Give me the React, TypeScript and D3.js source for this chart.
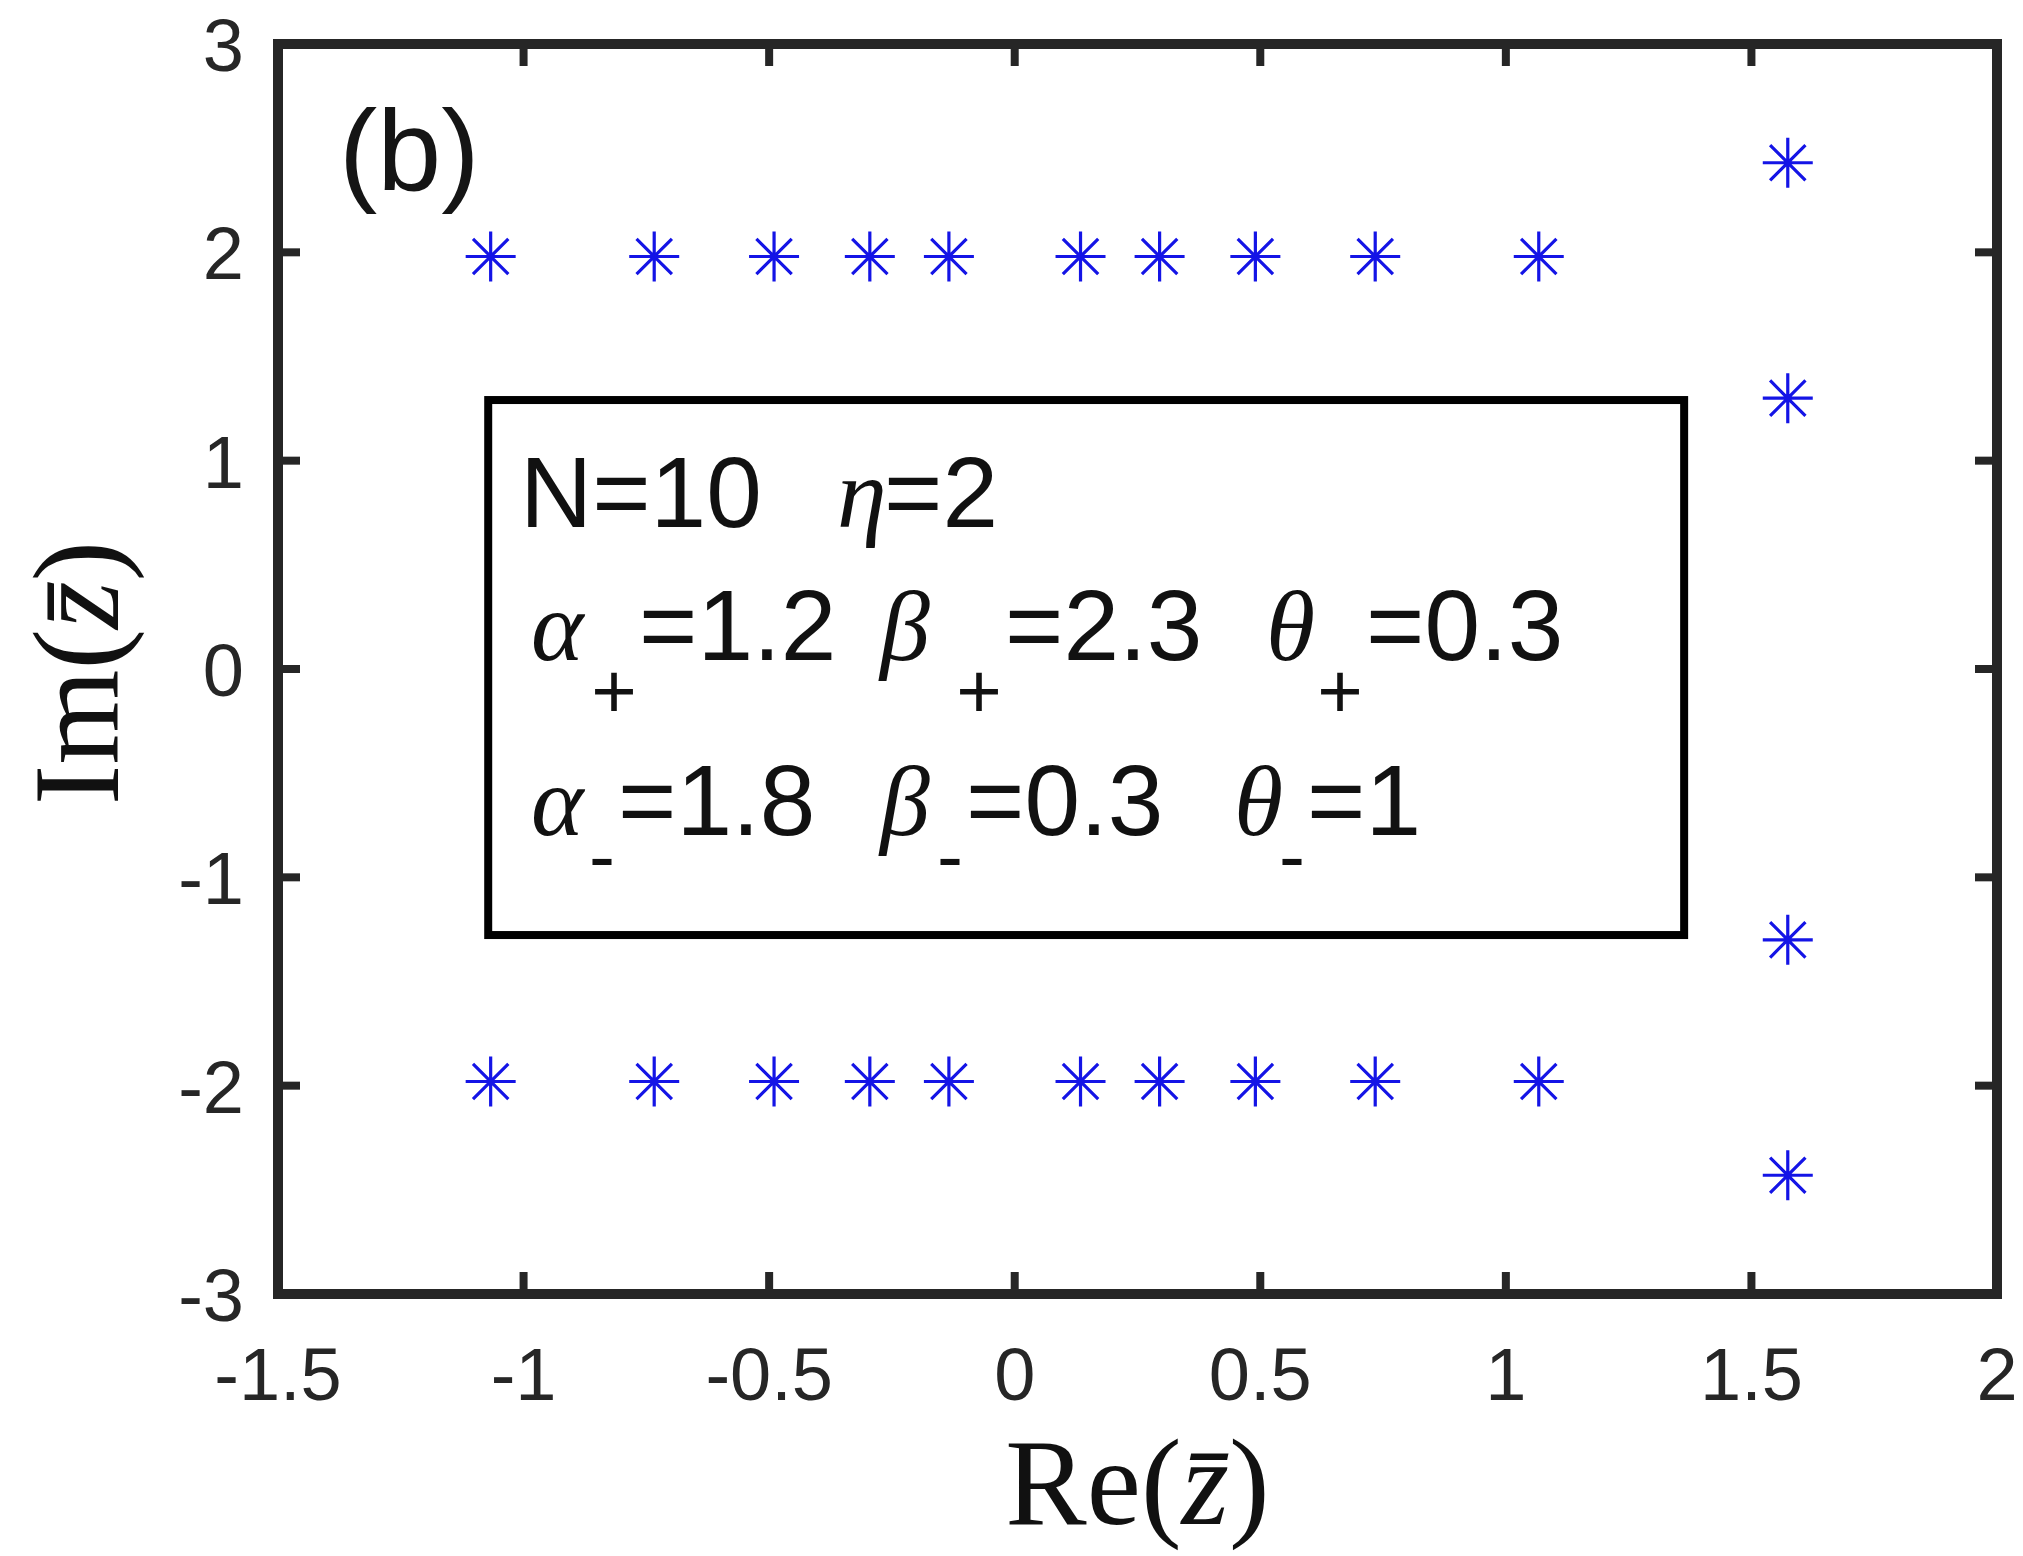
import React from "react";
import * as d3 from "d3";

// Eigenvalue positions in the complex plane (Re, Im)
const rowRe = [-1.067, -0.734, -0.49, -0.295, -0.134, 0.134, 0.295, 0.49, 0.734, 1.067];
const rowIm = [1.98, -1.98];
const edgeRe = [1.574, 1.574, 1.574, 1.574];
const edgeIm = [2.43, 1.3, -1.3, -2.43];

const xTicks = [-1.5, -1, -0.5, 0, 0.5, 1, 1.5, 2];
const yTicks = [-3, -2, -1, 0, 1, 2, 3];

// Parameter annotation
const headerLine = { n: "N=10", eta: "η", etaVal: "=2" };
const paramSymbols = ["α", "β", "θ"];
const plusValues = ["=1.2", "=2.3", "=0.3"];
const minusValues = ["=1.8", "=0.3", "=1"];

const W = 2023;
const H = 1556;
const M = { left: 278, right: 1997, top: 44, bottom: 1294 };

const axisColor = "#262626";
const markerColor = "#1414e6";
const sans = "'Liberation Sans', Arial, Helvetica, sans-serif";
const serif = "'Liberation Serif', 'Times New Roman', serif";

// layout of the annotation text rows (symbol x, subscript center x, value x)
const plusLayout = [
  { sym: 531, sub: 614, val: 639 },
  { sym: 880, sub: 979, val: 1005 },
  { sym: 1266, sub: 1340, val: 1366 },
];
const minusLayout = [
  { sym: 531, sub: 602, val: 618 },
  { sym: 880, sub: 950, val: 966 },
  { sym: 1234, sub: 1292, val: 1307 },
];

function starPath(r: number): string {
  const p = d3.path();
  const d = r * Math.SQRT1_2;
  p.moveTo(-r, 0);
  p.lineTo(r, 0);
  p.moveTo(0, -r);
  p.lineTo(0, r);
  p.moveTo(-d, -d);
  p.lineTo(d, d);
  p.moveTo(-d, d);
  p.lineTo(d, -d);
  return p.toString();
}

export default function App() {
  const x = d3.scaleLinear().domain([-1.5, 2]).range([M.left, M.right]);
  const y = d3.scaleLinear().domain([-3, 3]).range([M.bottom, M.top]);

  const points: [number, number][] = [];
  rowIm.forEach((im) => rowRe.forEach((re) => points.push([re, im])));
  edgeRe.forEach((re, i) => points.push([re, edgeIm[i]]));

  const star = starPath(25);
  const tickLen = 22;

  // annotation box in data coordinates
  const box = { x0: -1.072, x1: 1.363, y0: 1.291, y1: -1.277 };

  return (
    <svg
      width={W}
      height={H}
      viewBox={`0 0 ${W} ${H}`}
      style={{ position: "absolute", left: 0, top: 0, background: "#fff" }}
    >
      <rect x={0} y={0} width={W} height={H} fill="#fff" />

      {/* tick marks on all four sides */}
      <g stroke={axisColor} strokeWidth={8}>
        {xTicks.map((t) => (
          <g key={`xt${t}`}>
            <line x1={x(t)} x2={x(t)} y1={M.bottom} y2={M.bottom - tickLen} />
            <line x1={x(t)} x2={x(t)} y1={M.top} y2={M.top + tickLen} />
          </g>
        ))}
        {yTicks.map((t) => (
          <g key={`yt${t}`}>
            <line x1={M.left} x2={M.left + tickLen} y1={y(t)} y2={y(t)} />
            <line x1={M.right} x2={M.right - tickLen} y1={y(t)} y2={y(t)} />
          </g>
        ))}
      </g>

      {/* axes box */}
      <rect
        x={M.left}
        y={M.top}
        width={M.right - M.left}
        height={M.bottom - M.top}
        fill="none"
        stroke={axisColor}
        strokeWidth={10}
        strokeLinejoin="miter"
      />

      {/* tick labels */}
      <g fontFamily={sans} fontSize={74} fill={axisColor}>
        {xTicks.map((t) => (
          <text key={`xl${t}`} x={x(t)} y={1400} textAnchor="middle">
            {String(t)}
          </text>
        ))}
        {yTicks.map((t) => (
          <text key={`yl${t}`} x={244} y={y(t) + 27} textAnchor="end">
            {String(t)}
          </text>
        ))}
      </g>

      {/* axis labels */}
      <text
        x={(M.left + M.right) / 2}
        y={1524}
        textAnchor="middle"
        fontFamily={serif}
        fontSize={122}
        fill="#111"
      >
        Re(<tspan fontStyle="italic">{"z\u0304"}</tspan>)
      </text>
      <text
        transform={`translate(118,${(M.top + M.bottom) / 2 + 4}) rotate(-90)`}
        textAnchor="middle"
        fontFamily={serif}
        fontSize={122}
        fill="#111"
      >
        Im(<tspan fontStyle="italic">{"z\u0304"}</tspan>)
      </text>

      {/* panel label */}
      <text x={339} y={190} fontFamily={sans} fontSize={115} fill="#151515">
        (b)
      </text>

      {/* eigenvalue markers */}
      <g stroke={markerColor} strokeWidth={3.2} fill="none">
        {points.map(([re, im], i) => (
          <path key={i} d={star} transform={`translate(${x(re)},${y(im)})`} />
        ))}
      </g>

      {/* parameter annotation */}
      <rect
        x={x(box.x0)}
        y={y(box.y0)}
        width={x(box.x1) - x(box.x0)}
        height={y(box.y1) - y(box.y0)}
        fill="#fff"
        stroke="#000"
        strokeWidth={8}
      />
      <g fontFamily={sans} fontSize={100} fill="#111">
        <text x={520} y={527}>
          {headerLine.n}
        </text>
        <text x={837} y={527} fontFamily={serif} fontStyle="italic">
          {headerLine.eta}
        </text>
        <text x={884} y={527}>
          {headerLine.etaVal}
        </text>

        {paramSymbols.map((s, i) => (
          <g key={`p${i}`}>
            <text x={plusLayout[i].sym} y={660} fontFamily={serif} fontStyle="italic">
              {s}
            </text>
            <text x={plusLayout[i].sub} y={718} fontSize={78} textAnchor="middle">
              +
            </text>
            <text x={plusLayout[i].val} y={660}>
              {plusValues[i]}
            </text>
          </g>
        ))}
        {paramSymbols.map((s, i) => (
          <g key={`m${i}`}>
            <text x={minusLayout[i].sym} y={835} fontFamily={serif} fontStyle="italic">
              {s}
            </text>
            <text x={minusLayout[i].sub} y={883} fontSize={78} textAnchor="middle">
              -
            </text>
            <text x={minusLayout[i].val} y={835}>
              {minusValues[i]}
            </text>
          </g>
        ))}
      </g>
    </svg>
  );
}
